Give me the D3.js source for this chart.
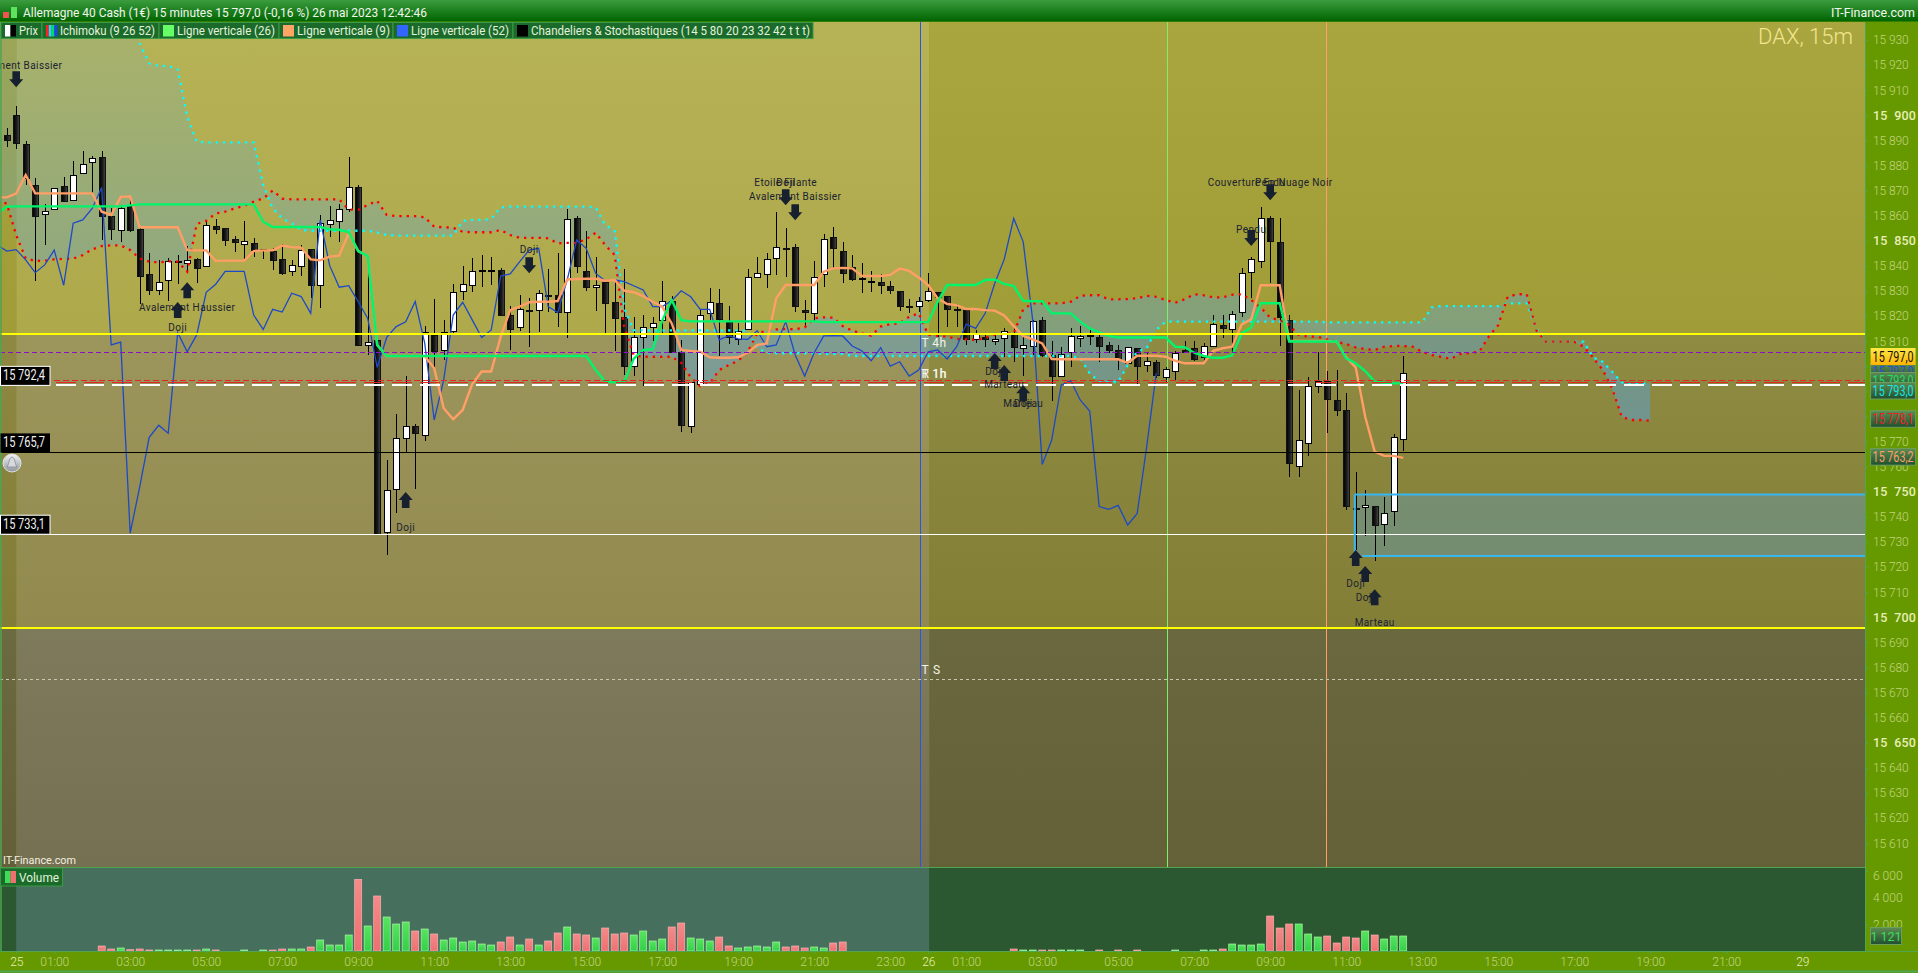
<!DOCTYPE html>
<html><head><meta charset="utf-8">
<style>
html,body{margin:0;padding:0;background:#669900;overflow:hidden}
svg{display:block}
text{font-family:Roboto,"Open Sans",sans-serif}
</style>
<script src="https://cdn.jsdelivr.net/npm/d3@7/dist/d3.min.js"></script>
</head><body><svg id="c" width="1918" height="973"></svg>
<script>
const titleText="Allemagne 40 Cash (1€) 15 minutes 15 797,0 (-0,16 %) 26 mai 2023 12:42:46";
const legendNames=["Prix","Ichimoku (9 26 52)","Ligne verticale (26)","Ligne verticale (9)","Ligne verticale (52)","Chandeliers & Stochastiques (14 5 80 20 23 32 42 t t t)"];

const opens=[15892.2,15900.1,15888.6,15872.2,15860.6,15862.5,15871.8,15866.1,15876.9,15881.5,
15883.4,15860.0,15854.0,15864.0,15854.7,15836.8,15830.5,15834.3,15842.0,15840.9,
15842.8,15839.8,15855.9,15855.0,15850.6,15848.5,15849.0,15846.5,15846.1,15842.8,
15837.8,15839.8,15846.7,15832.3,15856.6,15857.6,15862.5,15871.4,15808.6,15810.5,
15733.9,15751.0,15771.7,15776.2,15772.9,15812.5,15806.4,15813.8,15829.9,15832.3,
15838.1,15838.1,15838.4,15820.4,15815.5,15822.3,15822.3,15828.3,15828.3,15821.5,
15859.1,15838.0,15831.4,15833.6,15825.6,15819.6,15800.0,15811.9,15815.9,15818.3,
15826.1,15805.7,15776.1,15792.8,15821.1,15825.1,15817.8,15811.0,15815.1,15835.4,
15836.6,15843.0,15847.0,15847.4,15822.3,15821.4,15836.6,15851.4,15845.9,15839.4,
15834.9,15833.8,15833.4,15832.0,15829.9,15823.9,15824.1,15826.7,15829.5,15828.0,
15822.7,15822.3,15811.0,15811.8,15809.9,15811.5,15813.4,15807.0,15807.8,15818.4,
15804.4,15796.3,15805.6,15811.4,15812.2,15811.7,15808.3,15806.4,15801.2,15807.2,
15800.4,15801.6,15795.6,15798.4,15806.4,15807.2,15803.6,15808.2,15816.4,15815.1,
15821.5,15837.4,15841.8,15859.1,15849.4,15818.3,15760.1,15769.7,15792.3,15794.0,
15786.4,15782.6,15743.7,15743.7,15744.3,15736.9,15742.1,15770.9];
const highs=[15894.8,15903.7,15889.6,15874.9,15864.7,15870.9,15875.3,15881.8,15885.8,15883.8,
15885.8,15862.9,15864.3,15866.3,15855.0,15845.0,15842.4,15843.0,15844.3,15847.9,
15843.0,15858.3,15858.6,15855.0,15851.9,15857.9,15851.0,15846.6,15847.0,15848.7,
15842.4,15848.3,15846.7,15860.3,15863.9,15864.7,15883.3,15872.2,15843.7,15810.5,
15762.7,15780.9,15796.1,15777.0,15816.1,15826.7,15818.5,15832.7,15840.0,15843.0,
15844.3,15843.4,15839.0,15824.0,15828.4,15827.1,15830.4,15838.8,15845.0,15862.7,
15859.9,15853.9,15843.7,15833.7,15833.7,15838.8,15819.8,15820.4,15819.8,15834.0,
15828.1,15810.5,15793.9,15822.4,15831.1,15830.7,15824.0,15817.1,15838.8,15843.4,
15845.0,15861.3,15855.0,15848.7,15826.4,15841.9,15852.6,15855.4,15849.4,15844.3,
15841.0,15838.0,15836.8,15834.0,15830.1,15826.7,15827.7,15837.0,15829.5,15828.0,
15824.7,15822.4,15814.4,15813.4,15813.1,15815.1,15815.1,15813.1,15818.4,15819.5,
15809.9,15807.8,15815.1,15816.0,15814.7,15813.1,15809.5,15808.5,15807.8,15807.4,
15805.8,15802.5,15799.9,15806.1,15810.1,15810.1,15809.1,15820.4,15820.4,15822.0,
15839.3,15843.4,15863.3,15859.9,15858.9,15820.4,15790.6,15795.6,15805.6,15798.1,
15798.5,15789.2,15757.9,15750.7,15744.3,15747.8,15772.9,15804.1];
const lows=[15887.5,15886.6,15872.2,15834.1,15848.3,15862.3,15865.5,15865.9,15876.9,15868.9,
15850.3,15850.3,15849.7,15853.6,15824.8,15828.4,15828.4,15826.0,15832.8,15837.0,
15833.3,15839.7,15852.7,15847.9,15845.7,15842.4,15843.7,15842.8,15838.4,15836.4,
15836.1,15836.1,15827.1,15823.4,15851.7,15849.7,15861.6,15808.1,15804.5,15733.2,
15724.8,15741.7,15765.3,15751.1,15770.4,15799.9,15802.5,15813.1,15826.4,15829.5,
15831.7,15832.4,15820.0,15806.5,15814.2,15807.8,15813.8,15821.8,15815.8,15811.1,
15837.3,15830.1,15822.2,15813.1,15806.1,15796.5,15796.3,15792.1,15810.1,15813.1,
15805.4,15773.9,15773.3,15792.5,15818.4,15804.1,15808.9,15808.5,15814.9,15835.3,
15831.3,15836.4,15835.7,15821.8,15816.0,15817.8,15831.7,15839.0,15833.3,15834.0,
15829.3,15829.7,15828.8,15828.8,15822.2,15821.1,15821.8,15825.7,15811.8,15815.8,
15815.8,15808.5,15809.4,15807.8,15808.5,15803.8,15801.8,15796.1,15804.5,15803.6,
15786.3,15795.6,15799.8,15807.8,15808.5,15801.8,15805.2,15798.5,15800.9,15792.5,
15797.9,15795.2,15793.2,15794.1,15805.4,15802.2,15801.4,15807.8,15811.4,15805.2,
15819.8,15827.1,15839.3,15833.3,15808.2,15756.0,15756.0,15764.4,15789.5,15773.6,
15780.3,15742.7,15726.8,15732.4,15722.6,15728.4,15736.4,15766.4];
const closes=[15890.2,15889.1,15874.9,15859.9,15861.7,15870.9,15865.9,15876.1,15880.5,15882.9,
15860.0,15854.7,15862.9,15854.3,15836.1,15830.4,15833.5,15841.8,15842.1,15842.2,
15839.3,15856.2,15854.8,15850.3,15849.3,15849.8,15846.1,15846.6,15842.4,15837.2,
15840.2,15846.2,15832.5,15857.0,15858.2,15862.5,15871.3,15808.5,15809.6,15733.2,
15750.6,15771.3,15776.3,15773.6,15813.8,15806.2,15813.5,15829.5,15832.7,15837.8,
15838.2,15838.2,15820.4,15814.9,15822.7,15821.9,15829.1,15828.1,15821.4,15858.5,
15840.1,15831.7,15832.3,15825.3,15819.4,15799.9,15811.5,15815.8,15817.4,15825.9,
15805.7,15776.6,15793.6,15820.3,15825.5,15818.6,15811.8,15814.2,15835.7,15837.0,
15842.6,15847.4,15846.5,15823.8,15821.4,15835.7,15850.6,15846.9,15837.3,15834.5,
15835.0,15834.0,15832.4,15830.5,15823.8,15823.5,15826.1,15830.1,15827.5,15823.0,
15822.2,15810.6,15812.9,15811.0,15810.7,15814.2,15807.8,15808.3,15817.9,15804.4,
15796.1,15805.0,15811.9,15812.2,15812.3,15808.1,15806.2,15802.9,15807.6,15800.2,
15802.0,15796.3,15798.8,15805.4,15805.8,15802.9,15807.9,15817.0,15815.4,15821.0,
15837.0,15842.6,15858.9,15850.0,15819.4,15761.2,15770.5,15792.3,15794.3,15786.7,
15782.3,15744.5,15743.5,15744.6,15736.8,15741.4,15771.7,15797.2];
const volumes=[0,0,0,0,0,0,0,0,0,0,
375,150,225,100,150,75,75,75,75,75,
75,150,75,0,0,75,0,75,75,150,
150,150,300,825,450,450,1200,5375,1875,4125,
2550,2025,2175,1500,1650,1275,825,975,675,750,
525,450,675,1050,450,900,450,750,1350,1800,
1275,1200,975,1725,1275,1350,1200,1500,750,900,
1800,2100,975,900,750,1050,375,225,300,375,
300,675,300,375,225,300,225,600,675,0,
0,0,0,0,0,0,0,0,0,0,
0,0,0,0,0,0,150,75,75,75,
75,75,75,75,0,75,0,75,0,75,
0,0,0,75,0,0,75,75,150,525,
450,450,525,2625,1725,2025,2025,1275,1050,1125,
600,1050,975,1500,1200,900,1125,1125];

// Ichimoku series: first value sits at the left edge, one slot before the first candle
const tenkan=[15867.3,15867.3,15868.8,15876.2,15868.9,15868.9,15868.9,15868.9,15868.9,15868.9,15868.9,
15861.6,15860.3,15867.5,15867.7,15855.4,15855.4,15855.4,15855.4,15855.4,15846.3,
15846.2,15846.2,15842.0,15842.1,15842.1,15842.1,15845.9,15846.2,15846.2,15848.1,
15847.5,15847.3,15842.6,15842.2,15843.7,15844.1,15853.0,15845.9,15843.9,15808.5,
15804.1,15804.1,15804.1,15804.1,15804.1,15799.2,15783.3,15778.9,15782.6,15792.9,
15797.9,15797.9,15811.8,15822.4,15823.8,15825.5,15825.7,15825.7,15826.0,15834.6,
15834.8,15834.9,15834.9,15834.1,15834.4,15830.1,15829.5,15828.0,15825.7,15823.8,
15817.1,15806.5,15806.1,15805.8,15803.6,15803.4,15803.4,15803.6,15805.4,15808.5,
15809.1,15827.1,15832.4,15832.4,15832.4,15832.4,15837.7,15839.0,15839.2,15839.0,
15836.1,15836.0,15836.0,15836.4,15838.9,15838.0,15835.4,15832.4,15827.1,15824.8,
15824.4,15822.8,15822.8,15822.4,15822.2,15820.3,15816.0,15812.1,15810.7,15809.1,
15802.9,15802.8,15802.8,15802.8,15802.8,15802.8,15802.8,15802.8,15801.4,15804.2,
15804.2,15804.2,15803.8,15802.2,15801.2,15801.2,15801.2,15806.2,15807.2,15807.8,
15816.7,15818.7,15832.3,15832.3,15832.3,15810.1,15810.1,15810.1,15810.1,15810.1,
15809.8,15803.6,15799.6,15779.9,15766.0,15764.3,15764.3,15763.5];
const kijun=[15860.9,15863.6,15863.7,15863.7,15863.7,15863.7,15863.7,15863.7,15863.7,15863.7,15863.7,
15863.7,15863.7,15863.7,15864.1,15864.5,15864.5,15864.5,15864.5,15864.5,15864.5,
15864.5,15864.5,15864.5,15864.5,15864.5,15864.5,15864.5,15857.6,15855.5,15855.5,
15855.5,15855.5,15855.5,15855.5,15854.6,15854.4,15853.5,15845.9,15843.9,15808.5,
15804.1,15804.1,15804.1,15804.1,15804.1,15804.1,15804.1,15804.1,15804.1,15804.1,
15804.1,15804.1,15804.1,15804.1,15804.1,15804.1,15804.1,15804.1,15804.1,15804.1,
15804.1,15804.1,15798.5,15793.9,15793.6,15793.7,15803.0,15806.5,15806.8,15818.2,
15826.4,15818.4,15817.9,15817.9,15817.9,15817.9,15817.9,15817.9,15817.9,15817.9,
15817.9,15817.9,15817.9,15817.9,15817.9,15817.9,15817.6,15817.6,15817.6,15817.6,
15817.6,15817.6,15817.6,15817.6,15817.6,15817.6,15817.6,15817.6,15825.7,15832.4,
15832.4,15832.4,15832.4,15834.4,15834.6,15832.8,15832.0,15826.1,15825.9,15825.9,
15821.1,15821.1,15821.1,15817.8,15815.1,15813.5,15812.1,15811.5,15811.5,15811.5,
15811.5,15811.5,15811.5,15807.8,15807.6,15805.4,15804.1,15803.4,15803.4,15804.4,
15813.1,15815.5,15825.1,15825.1,15825.1,15809.9,15809.9,15809.9,15809.9,15809.9,
15809.9,15803.2,15801.2,15798.1,15793.9,15793.5,15793.2,15793.2];
const chikou=[15848.3,15845.9,15846.5,15842.4,15837.3,15840.4,15846.3,15832.3,15857.0,15858.3,15862.9,
15871.2,15808.5,15809.6,15733.5,15752.0,15771.7,15776.5,15773.3,15813.4,15805.8,
15812.5,15829.5,15832.7,15837.8,15837.8,15837.8,15820.4,15814.7,15822.7,15821.6,
15829.1,15827.8,15821.1,15858.3,15840.1,15831.5,15832.1,15825.8,15819.1,15799.6,
15811.5,15815.8,15817.7,15825.8,15809.2,15778.6,15794.6,15820.4,15825.5,15818.5,
15811.5,15814.5,15836.0,15836.8,15841.7,15846.3,15847.0,15823.8,15821.4,15834.4,
15850.3,15847.0,15837.0,15834.1,15834.4,15833.7,15832.1,15830.4,15823.8,15823.8,
15826.1,15830.1,15827.7,15822.7,15822.7,15810.5,15812.2,15810.9,15810.7,15814.2,
15807.8,15808.5,15817.8,15804.5,15796.1,15805.4,15812.1,15812.2,15812.1,15808.1,
15806.2,15802.2,15807.4,15800.1,15801.8,15796.1,15798.5,15805.8,15806.5,15802.9,
15807.8,15816.8,15815.1,15821.1,15833.0,15842.6,15858.9,15849.6,15818.4,15760.9,
15770.6,15792.5,15794.3,15786.6,15782.2,15744.1,15743.0,15744.6,15736.8,15741.4,
15768.0,15797.2];
const senkouA=[15865.6,15864.9,15852.3,15843.0,15842.0,15842.1,15842.6,15842.8,15842.9,15844.3,15846.6,
15847.9,15848.2,15848.2,15846.3,15843.0,15841.7,15841.4,15841.8,15841.7,15837.7,
15856.7,15858.0,15860.9,15861.6,15862.9,15863.9,15865.6,15866.9,15870.0,15866.8,
15866.5,15866.5,15866.5,15866.5,15866.5,15866.5,15862.5,15862.3,15864.3,15865.9,
15860.3,15859.8,15859.8,15859.8,15859.4,15855.6,15855.4,15855.2,15853.6,15853.4,
15853.4,15853.4,15854.3,15852.3,15851.2,15851.2,15851.2,15851.0,15849.0,15849.2,
15849.2,15850.6,15853.2,15848.3,15844.3,15815.8,15804.5,15803.8,15803.8,15803.8,
15803.8,15801.4,15795.6,15792.1,15793.2,15798.5,15800.5,15802.2,15805.8,15813.1,
15814.2,15814.7,15814.9,15814.7,15815.5,15819.1,15819.5,15819.4,15816.0,15814.2,
15813.1,15812.2,15815.8,15816.8,15817.1,15819.8,15821.1,15812.5,15812.1,15811.8,
15810.9,15810.7,15810.5,15811.4,15812.5,15812.9,15813.1,15822.7,15825.1,15825.1,
15825.1,15825.1,15825.7,15828.1,15828.3,15828.3,15826.7,15826.7,15826.8,15827.1,
15828.1,15827.7,15826.4,15825.3,15826.7,15828.7,15828.3,15827.5,15827.5,15828.5,
15828.7,15826.4,15823.4,15819.4,15818.4,15816.4,15812.5,15811.8,15811.8,15810.7,
15809.8,15808.9,15807.5,15806.9,15806.5,15807.8,15808.1,15808.1,15807.8,15805.8,
15804.5,15803.8,15802.9,15804.9,15805.3,15805.8,15811.8,15816.4,15827.7,15828.7,
15828.7,15814.5,15809.8,15809.8,15809.8,15809.8,15807.8,15803.4,15798.5,15791.2,
15779.9,15778.6,15778.6,15778.3];
const senkouB=[15960,15960,15960,15960,15960,15960,15960,15960,15960,15960,15960,
15960,15960,15960,15937.9,15928.6,15920.7,15919.7,15919.7,15918.3,15899.4,
15889.5,15889.2,15889.2,15889.2,15889.2,15889.2,15889.2,15872.2,15862.9,15858.9,
15856.9,15854.3,15854.0,15854.0,15854.0,15854.0,15854.0,15854.0,15854.0,15853.3,
15852.3,15852.1,15852.1,15852.1,15852.1,15852.1,15852.1,15852.1,15857.9,15858.3,
15858.3,15858.7,15863.3,15863.6,15863.6,15863.6,15863.6,15863.6,15863.6,15863.6,
15863.6,15863.6,15863.3,15856.3,15853.9,15823.1,15814.4,15814.3,15814.3,15814.3,
15814.3,15814.3,15814.3,15814.3,15814.3,15814.3,15814.3,15814.3,15814.2,15807.2,
15805.4,15805.2,15805.2,15805.2,15805.2,15805.2,15804.9,15804.9,15804.9,15804.1,
15804.1,15804.1,15804.1,15804.1,15804.1,15804.1,15804.1,15804.1,15804.1,15804.1,
15804.1,15804.1,15804.1,15804.1,15804.1,15804.1,15804.1,15804.1,15804.1,15804.1,
15804.1,15804.1,15804.1,15803.2,15797.2,15793.9,15793.7,15793.7,15800.5,15805.8,
15807.2,15814.5,15817.8,15817.8,15817.8,15817.8,15817.8,15817.8,15817.8,15817.8,
15817.8,15817.8,15817.8,15817.8,15817.8,15817.8,15817.8,15817.8,15817.8,15817.5,
15817.5,15817.5,15817.5,15817.5,15817.5,15817.5,15817.5,15817.5,15817.5,15817.5,
15823.5,15824.0,15824.0,15824.0,15824.0,15824.0,15824.0,15824.0,15825.1,15825.1,
15825.1,15815.1,15809.8,15809.8,15809.8,15809.8,15809.8,15803.5,15801.8,15797.8,
15793.6,15793.2,15793.2,15793.2];

const priceTicks=[15610,15620,15630,15640,15650,15660,15670,15680,15690,15700,15710,15720,15730,15740,15750,15760,15770,15780,15790,15800,15810,15820,15830,15840,15850,15860,15870,15880,15890,15900,15910,15920,15930];
const volumeTicks=[2000,4000,6000];
const timeTickHours=[0,1,3,5,7,9,11,13,15,17,19,21,23,24,25,27,29,31,33,35,37,39,41,43,45,47];
const timeTickLabels=["25","01:00","03:00","05:00","07:00","09:00","11:00","13:00","15:00","17:00","19:00","21:00","23:00","26","01:00","03:00","05:00","07:00","09:00","11:00","13:00","15:00","17:00","19:00","21:00","29"];

const bandTop=15812.9, bandBottom=15695.8;
const pivotPurple=15805.6, redDash=15794.4, redLong=15793.7, whiteLong=15792.4, blackLevel=15765.7, whiteLevel=15733.1, greyDash=15675.4;
const zoneHigh=15748.9, zoneLow=15724.4, zoneStart=141.9, zoneBottomStart=142.7;
const vLineBlue=96.2, vLineGreen=122.2, vLineOrange=138.9, dayBoundary=97.1, leftStripe=1;

const arrowsDown=[[1,15911.2],[55,15837.1],[82,15864.2],[83,15858.2],[133,15866.2],[131,15847.9]];
const arrowsUp=[[19,15833.5],[18,15825.6],[42,15749.9],[104,15805.3],[105,15800.5],[107,15792.5],[142,15726.8],[143,15720.4],[144,15711.2]];
const patternNames=["Avalement Baissier","Doji","Etoile Filante","Doji","Avalement Baissier","Couverture En Nuage Noir","Pendu","Pendu","Avalement Haussier","Doji","Doji","Doji","Marteau","Marteau","Doji","Doji","Doji","Marteau"];
const patternSlots=[1,55,82,82,83,133,133,131,19,18,42,104,105,107,107,142,143,144];
const patternPrices=[15920.0,15846.7,15873.4,15873.4,15867.8,15873.4,15873.4,15854.7,15823.6,15815.6,15735.9,15798.1,15792.9,15785.3,15785.3,15713.6,15708.0,15698.1];

const priceTags=[["15 797,0",15797.0,"#2a4fd0"],["15 793,0",15793.0,"#22dd66"],["15 793,0",15793.0,"#19e6e6"],["15 778,1",15778.1,"#ee2020"],["15 763,2",15763.2,"#ff9e66"]];
const leftTags=[["15 792,4",15792.4,true],["15 765,7",15765.7,false],["15 733,1",15733.1,true]];

// ---- layout
const W=1918,H=973,plotR=1865,plotT=22,plotB=867,volB=951;
const x=d3.scaleLinear().domain([0,147]).range([6.7,1403.2]);
const y=d3.scaleLinear().domain([15900,15700]).range([115.3,617.3]);
const yv=d3.scaleLinear().domain([0,6000]).range([volB,871]);
const svg=d3.select("#c");
const defs=svg.append("defs");
function grad(id,stops,horiz){const g=defs.append("linearGradient").attr("id",id).attr("x1",0).attr("y1",0).attr("x2",horiz?1:0).attr("y2",horiz?0:1);
 stops.forEach(s=>g.append("stop").attr("offset",s[0]).attr("stop-color",s[1]).attr("stop-opacity",s[2]===undefined?1:s[2]));}
grad("gTitle",[[0,"#3a9c3e"],[1,"#006400"]]);
grad("gDark",[[0,"#000"],[.55,"#1c1c1c"],[1,"#4a4a4a"]],true);
grad("gTag",[[0,"#5c8c52"],[1,"#1f5030"]]);
grad("gYellow",[[0,"#ffe94a"],[1,"#ffb400"]]);
grad("gVolR",[[0,"#f58a8a"],[1,"#ee7070"]]);
grad("gVolG",[[0,"#57e45f"],[1,"#34d048"]]);
grad("gBell",[[0,"#f2f4f6"],[1,"#8f959c"]]);
const cg=defs.append("linearGradient").attr("id","gCloud").attr("gradientUnits","userSpaceOnUse").attr("x1",0).attr("x2",0).attr("y1",40).attr("y2",430);
cg.append("stop").attr("offset",0).attr("stop-color","#6fb0c0").attr("stop-opacity",.2);
cg.append("stop").attr("offset",1).attr("stop-color","#5aa0d0").attr("stop-opacity",.55);
defs.append("clipPath").attr("id","plotClip").append("rect").attr("x",0).attr("y",plotT).attr("width",plotR).attr("height",plotB-plotT);

// ---- background bands
const bg=[
 ["bR1",plotT,y(bandTop),dayBoundary,null,"#a9a63f","#a09c37"],
 ["bR2",y(bandTop),y(bandBottom),dayBoundary,null,"#8f8b42","#827e36"],
 ["bR3",y(bandBottom),plotB,dayBoundary,null,"#6a683e","#646038"],
 ["bL1",plotT,y(bandTop),leftStripe,dayBoundary,"#b6b256","#aea94b"],
 ["bL2",y(bandTop),y(bandBottom),leftStripe,dayBoundary,"#9d965c","#91894e"],
 ["bL3",y(bandBottom),plotB,leftStripe,dayBoundary,"#7e7a5c","#767052"],
 ["bS1",plotT,y(bandTop),null,leftStripe,"#a7a33e","#a09c37"],
 ["bS2",y(bandTop),y(bandBottom),null,leftStripe,"#8e8842","#827c38"],
 ["bS3",y(bandBottom),plotB,null,leftStripe,"#6c6a40","#645f38"]];
bg.forEach(b=>{grad(b[0],[[0,b[5]],[1,b[6]]]);
 const xa=b[3]===null?0:x(b[3]),xb=b[4]===null?plotR:x(b[4]);
 svg.append("rect").attr("x",xa).attr("y",b[1]).attr("width",xb-xa).attr("height",b[2]-b[1]).attr("fill",`url(#${b[0]})`);});

const plot=svg.append("g").attr("clip-path","url(#plotClip)");
const lx=(d,k)=>x(k-1);
// cloud
plot.append("path").datum(senkouA.map((a,k)=>[a,senkouB[k]]))
 .attr("d",d3.area().x(lx).y0(d=>y(d[0])).y1(d=>y(d[1]))).attr("fill","url(#gCloud)");
// zone box
plot.append("rect").attr("x",x(zoneStart)).attr("y",y(zoneHigh)).attr("width",plotR-x(zoneStart)).attr("height",y(zoneLow)-y(zoneHigh)).attr("fill","#5aa0d0").attr("fill-opacity",.36);
// vertical lines
[[vLineBlue,"#2a55e0"],[vLineGreen,"#7cf06c"],[vLineOrange,"#ff9e66"]].forEach(v=>plot.append("line").attr("x1",x(v[0])).attr("x2",x(v[0])).attr("y1",plotT).attr("y2",plotB).attr("stroke",v[1]).attr("stroke-width",1).attr("shape-rendering","crispEdges"));
// candles
const candles=plot.append("g").selectAll("g").data(opens.map((o,i)=>({i,o,h:highs[i],l:lows[i],c:closes[i]}))).join("g");
candles.append("line").attr("x1",d=>Math.round(x(d.i))+.5).attr("x2",d=>Math.round(x(d.i))+.5).attr("y1",d=>y(d.h)).attr("y2",d=>y(d.l)).attr("stroke","#000").attr("stroke-width",1).attr("shape-rendering","crispEdges");
candles.append("rect").attr("x",d=>Math.round(x(d.i))-2.5).attr("width",6)
 .attr("y",d=>Math.round(y(Math.max(d.o,d.c)))+.5).attr("height",d=>Math.max(1,Math.round(y(Math.min(d.o,d.c))-y(Math.max(d.o,d.c)))))
 .attr("fill",d=>d.c>=d.o?"#fff":"url(#gDark)").attr("stroke",d=>d.c>=d.o?"#000":"#111").attr("stroke-width",1).attr("shape-rendering","crispEdges");
// ichimoku lines
const ln=d3.line().x(lx).y(d=>y(d));
const addLine=(arr,col,w,dash)=>{const p=plot.append("path").datum(arr).attr("d",ln).attr("fill","none").attr("stroke",col).attr("stroke-width",w);if(dash)p.attr("stroke-dasharray",dash);return p;};
addLine(senkouB,"#00ffff",2.3,"2.3 5");
addLine(senkouA,"#ff0000",2.3,"2.3 5");
addLine(chikou,"#1d49c8",1.3);
addLine(tenkan,"#ff9e66",2.4);
addLine(kijun,"#00f56a",2.4);
// horizontals
const hl=(v,col,w,dash)=>{const l=plot.append("line").attr("x1",0).attr("x2",plotR).attr("y1",y(v)).attr("y2",y(v)).attr("stroke",col).attr("stroke-width",w).attr("shape-rendering","crispEdges");if(dash)l.attr("stroke-dasharray",dash);};
hl(bandTop,"#ffff00",2);hl(bandBottom,"#ffff00",2);
hl(pivotPurple,"#8a10c8",1,"5 3");
hl(redDash,"#e02828",1,"6 3");
hl(redLong,"#e02828",1,"20 8");
hl(whiteLong,"#ffffff",2,"20 8");
hl(blackLevel,"#000",1);hl(whiteLevel,"#fff",1);
hl(greyDash,"#c8c8b0",1,"3 3");
// zone outline
const zn=plot.append("g").attr("stroke","#38b6f0").attr("stroke-width",2).attr("fill","none");
zn.append("line").attr("x1",x(zoneStart)).attr("x2",plotR).attr("y1",y(zoneHigh)).attr("y2",y(zoneHigh));
zn.append("line").attr("x1",x(zoneStart)).attr("x2",x(zoneStart)).attr("y1",y(zoneHigh)).attr("y2",y(zoneLow));
zn.append("line").attr("x1",x(zoneBottomStart)).attr("x2",plotR).attr("y1",y(zoneLow)).attr("y2",y(zoneLow));
// arrows
function arrow(g,i,p,s){const cx=x(i),t=y(p);
 const pts=[[0,0],[7,8*s],[3.8,8*s],[3.8,16*s],[-3.8,16*s],[-3.8,8*s],[-7,8*s]];
 g.append("polygon").attr("points",pts.map(q=>[cx+q[0],t+q[1]].join(",")).join(" ")).attr("fill","#17202f");}
const ar=plot.append("g");
arrowsDown.forEach(a=>arrow(ar,a[0],a[1],-1));
arrowsUp.forEach(a=>arrow(ar,a[0],a[1],1));
plot.append("g").selectAll("text").data(patternNames).join("text")
 .attr("x",(d,k)=>x(patternSlots[k])).attr("y",(d,k)=>y(patternPrices[k])).attr("dy","0.36em").attr("text-anchor","middle")
 .attr("font-size",10).attr("letter-spacing",.4).attr("fill","#1b2230").text(d=>d);
// T/R labels
const lvl=plot.append("g").attr("fill","#f4f4e8").attr("font-size",12).attr("letter-spacing",.4);
const tx=x(vLineBlue)+1;
lvl.append("text").attr("x",tx).attr("y",347).text("T 4h");
lvl.append("text").attr("x",tx).attr("y",378).text("T 1h");
lvl.append("text").attr("x",tx).attr("y",378).text("R 1h");
lvl.append("text").attr("x",tx).attr("y",674).attr("letter-spacing",.8).text("T S");
// DAX watermark
svg.append("text").attr("x",1853).attr("y",44).attr("text-anchor","end").attr("font-size",22).attr("font-weight",300).attr("fill","#f1e48e").text("DAX, 15m");
svg.append("text").attr("x",3).attr("y",864).attr("font-size",11.5).attr("fill","#f0f0e0").attr("textLength",73).attr("lengthAdjust","spacingAndGlyphs").text("IT-Finance.com");

// ---- volume panel
svg.append("rect").attr("x",0).attr("y",plotB).attr("width",plotR).attr("height",volB-plotB).attr("fill","#2b5731");
svg.append("rect").attr("x",x(leftStripe)).attr("y",plotB).attr("width",x(dayBoundary)-x(leftStripe)).attr("height",volB-plotB).attr("fill","#476f5e");
svg.selectAll(".vb").data(volumes.map((v,i)=>({v,i})).filter(d=>d.v>0)).join("rect").attr("class","vb")
 .attr("x",d=>x(d.i)-3.5).attr("width",7).attr("y",d=>yv(d.v)).attr("height",d=>volB-yv(d.v))
 .attr("fill",d=>closes[d.i]>=opens[d.i]?"url(#gVolG)":"url(#gVolR)")
 .attr("stroke",d=>closes[d.i]>=opens[d.i]?"#a8f5a0":"#f8b0b0").attr("stroke-width",.7);
svg.append("line").attr("x1",0).attr("x2",plotR).attr("y1",plotB).attr("y2",plotB).attr("stroke","#4fa552").attr("stroke-width",1).attr("shape-rendering","crispEdges");

// ---- axes panels
svg.append("rect").attr("x",plotR).attr("y",22).attr("width",W-plotR).attr("height",H-22).attr("fill","#669900");
svg.append("rect").attr("x",0).attr("y",volB).attr("width",W).attr("height",H-volB).attr("fill","#669900");
svg.append("line").attr("x1",plotR+.5).attr("x2",plotR+.5).attr("y1",22).attr("y2",volB).attr("stroke","#4fa552").attr("shape-rendering","crispEdges");
svg.append("line").attr("x1",0).attr("x2",W).attr("y1",volB+.5).attr("y2",volB+.5).attr("stroke","#4fa552").attr("shape-rendering","crispEdges");
svg.append("line").attr("x1",0).attr("x2",W).attr("y1",H-1.5).attr("y2",H-1.5).attr("stroke","#4fa552").attr("stroke-width",2);
svg.append("line").attr("x1",1).attr("x2",1).attr("y1",22).attr("y2",volB).attr("stroke","#4fa552").attr("stroke-width",1.5);

const fmt=v=>{const s=String(v);return s.slice(0,-3)+" "+s.slice(-3);};
const priceAxis=svg.append("g").attr("transform",`translate(${plotR},0)`).call(d3.axisRight(y).tickValues(priceTicks).tickFormat(fmt).tickSize(3).tickPadding(5));
priceAxis.select(".domain").remove();
priceAxis.selectAll("line").attr("stroke","#4fa552");
priceAxis.selectAll("text").attr("font-family","Roboto").attr("font-size",d=>d%50===0?12.5:12)
 .attr("fill",d=>d%50===0?"#e9efb8":"#c2d47e").attr("font-weight",d=>d%50===0?500:300)
 .attr("letter-spacing",d=>d%50===0?.2:-.1)
 .text(d=>d%50===0?fmt(d).replace(" ","  "):fmt(d)).attr("xml:space","preserve").style("white-space","pre");

const volAxis=svg.append("g").attr("transform",`translate(${plotR},0)`).call(d3.axisRight(yv).tickValues(volumeTicks).tickFormat(fmt).tickSize(3).tickPadding(5));
volAxis.select(".domain").remove();
volAxis.selectAll("line").attr("stroke","#4fa552");
volAxis.selectAll("text").attr("font-family","Roboto").attr("font-size",12).attr("font-weight",300).attr("fill","#c2d47e").attr("dy",(d)=>d===6000?"0.7em":"0.32em");

const timeAxis=svg.append("g").attr("transform",`translate(0,${volB})`).call(d3.axisBottom(x).tickValues(timeTickHours.map(h=>1+4*h)).tickFormat((d,k)=>timeTickLabels[k]).tickSize(3).tickPadding(3));
timeAxis.select(".domain").remove();
timeAxis.selectAll("line").attr("stroke","#4fa552");
timeAxis.selectAll("text").attr("font-family","Roboto").attr("font-size",12).attr("font-weight",300).attr("fill",(d,k)=>/:/.test(timeTickLabels[k])?"#c2d47e":"#e9efb8").attr("letter-spacing",-.1);

// ---- price tags
const tagX=plotR+5.6,tagW=45,tagH=16.5;
const tags=svg.append("g");
[0,1,2,3,4].forEach(k=>{const t=priceTags[k];let cy=y(t[1]);
 if(k===0)cy=372;if(k===1)cy=381;if(k===2)cy=391;if(k===3)cy=y(t[1])-2;if(k===4)cy=y(t[1])-1.5;
 tags.append("rect").attr("x",tagX).attr("y",cy-8.5).attr("width",tagW).attr("height",tagH).attr("fill","url(#gTag)").attr("stroke","#6e9e5e");
 tags.append("text").attr("x",tagX+2).attr("y",cy+4.8).attr("font-size",14).attr("textLength",41).attr("lengthAdjust","spacingAndGlyphs").attr("fill",t[2]).text(t[0]);});
tags.append("rect").attr("x",tagX).attr("y",348).attr("width",tagW).attr("height",17).attr("fill","url(#gYellow)");
tags.append("text").attr("x",tagX+2).attr("y",361.5).attr("font-size",14).attr("textLength",41).attr("lengthAdjust","spacingAndGlyphs").attr("fill","#111").text("15 797,0");
// volume tag
tags.append("rect").attr("x",1870.5).attr("y",927.5).attr("width",31).attr("height",17).attr("fill","url(#gTag)").attr("stroke","#6e9e5e");
tags.append("text").attr("x",1886).attr("y",941).attr("text-anchor","middle").attr("font-size",12.5).attr("fill","#3fdc5a").text("1 121");

// left tags
leftTags.forEach(t=>{const yb=y(t[1]);
 const g=svg.append("g");
 g.append("rect").attr("x",.5).attr("y",yb-19).attr("width",49.5).attr("height",19).attr("fill","#000").attr("stroke",t[2]?"#fff":"none");
 g.append("text").attr("x",3).attr("y",yb-5).attr("font-size",14).attr("textLength",42).attr("lengthAdjust","spacingAndGlyphs").attr("fill","#f0f0f0").text(t[0]);});
// bell
const bell=svg.append("g").attr("transform","translate(12,463)");
bell.append("circle").attr("r",9).attr("fill","url(#gBell)").attr("stroke","#dfe3e6");
bell.append("path").attr("d","M-5 4 C-3 2 -3.5 -5 0 -6 C3.5 -5 3 2 5 4 Z").attr("fill","#d6dade").attr("stroke","#858b92").attr("stroke-width",.8);

// ---- title + legend
svg.append("rect").attr("x",0).attr("y",0).attr("width",W).attr("height",21.5).attr("fill","url(#gTitle)");
svg.append("rect").attr("x",3).attr("y",12).attr("width",6).attr("height",6).attr("fill","#f25252");
svg.append("rect").attr("x",11).attr("y",7).attr("width",6).attr("height",11).attr("fill","#5fe35f");
svg.append("text").attr("x",23).attr("y",17).attr("font-size",13.5).attr("textLength",404).attr("lengthAdjust","spacingAndGlyphs").attr("fill","#f2f6ee").text(titleText);
svg.append("text").attr("x",1831).attr("y",17).attr("font-size",13.5).attr("textLength",84).attr("lengthAdjust","spacingAndGlyphs").attr("fill","#f2f6ee").text("IT-Finance.com");
const legX=[1,42,159,279,393,513,813];
const legW=[19,95,98,93,98,279];
const legG=svg.append("g");
legendNames.forEach((n,k)=>{legG.append("rect").attr("x",legX[k]).attr("y",22.5).attr("width",legX[k+1]-legX[k]).attr("height",16).attr("fill","#1a6b2b").attr("stroke","#3c9a45");
 legG.append("text").attr("x",legX[k]+18).attr("y",35).attr("font-size",12.5).attr("textLength",legW[k]).attr("lengthAdjust","spacingAndGlyphs").attr("fill","#e4f2dc").text(n);});
const sw=(xx,w,c)=>legG.append("rect").attr("x",xx).attr("y",25).attr("width",w).attr("height",11.5).attr("fill",c);
sw(5,5.5,"#fff");sw(10.5,5.5,"#000");
["#ff2020","#30d0ff","#00e060","#2040ff"].forEach((c,k)=>sw(46+k*2.8,2.8,c));
sw(163,11,"#66ff66");sw(283,11,"#ffa366");sw(397,11,"#3366ff");sw(517,11,"#000");
// volume legend
svg.append("rect").attr("x",.5).attr("y",868).attr("width",62).attr("height",18).attr("fill","#1a6b2b").attr("stroke","#3c9a45");
svg.append("rect").attr("x",5).attr("y",871).attr("width",5.5).attr("height",12).attr("fill","#3fdc5a");
svg.append("rect").attr("x",10.5).attr("y",871).attr("width",5.5).attr("height",12).attr("fill","#f07070");
svg.append("text").attr("x",19).attr("y",881.5).attr("font-size",12.5).attr("textLength",40).attr("lengthAdjust","spacingAndGlyphs").attr("fill","#e4f2dc").text("Volume");
</script></body></html>
